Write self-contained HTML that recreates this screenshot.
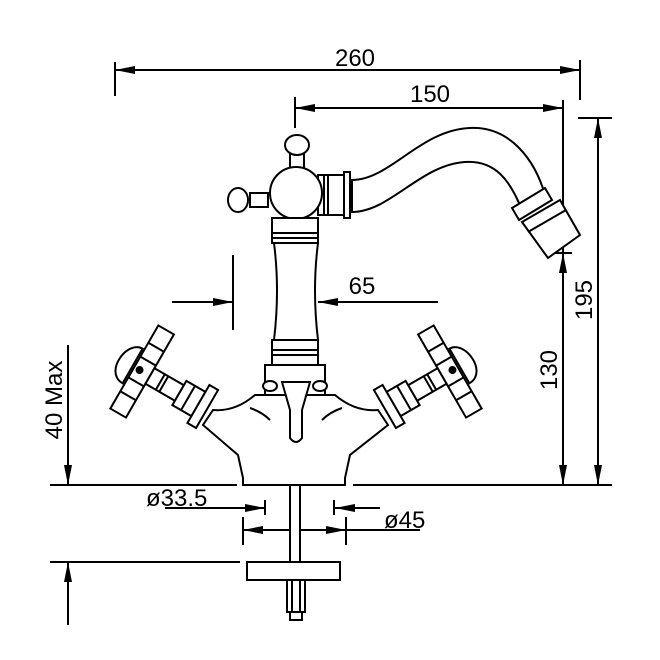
<!DOCTYPE html>
<html><head><style>html,body{margin:0;padding:0;background:#fff}svg{display:block}</style></head><body>
<svg width="660" height="660" viewBox="0 0 660 660" xmlns="http://www.w3.org/2000/svg">
<defs>
<marker id="a" viewBox="0 0 20 8" refX="20" refY="4" markerWidth="20" markerHeight="8" markerUnits="userSpaceOnUse" orient="auto"><path d="M0,0 L20,4 L0,8 Z" fill="#000"/></marker>
<g id="h" fill="#fff" stroke="#000" stroke-width="2">
<path d="M-12,-20 C-30,-20 -34,20 -12,20 Z"/>
<rect x="-10" y="-48" width="18" height="96"/>
<line x1="-10" y1="-28" x2="8" y2="-28"/><line x1="-10" y1="28" x2="8" y2="28"/>
<line x1="-10" y1="-12" x2="8" y2="-12"/><line x1="-10" y1="12" x2="8" y2="12"/>
<rect x="8" y="-9" width="34" height="18"/>
<line x1="20" y1="-9" x2="20" y2="9"/><line x1="24" y1="-9" x2="24" y2="9"/>
<rect x="42" y="-14" width="22" height="28"/>
<line x1="52" y1="-14" x2="52" y2="14"/>
<rect x="64" y="-22" width="10" height="44"/>
<circle cx="-4" cy="0" r="3" fill="#000"/>
</g>
</defs>
<g stroke="#000" stroke-width="2" fill="none">
<!-- 260 -->
<line x1="115" y1="62" x2="115" y2="96"/><line x1="580" y1="60" x2="580" y2="100"/>
<line x1="140" y1="70" x2="115" y2="70" marker-end="url(#a)"/><line x1="560" y1="70" x2="580" y2="70" marker-end="url(#a)"/><line x1="135" y1="70" x2="560" y2="70"/>
<!-- 150 -->
<line x1="295" y1="97" x2="295" y2="128"/><line x1="563" y1="100" x2="563" y2="485"/>
<line x1="315" y1="108" x2="295" y2="108" marker-end="url(#a)"/><line x1="545" y1="108" x2="563" y2="108" marker-end="url(#a)"/><line x1="310" y1="108" x2="545" y2="108"/>
<!-- 195 -->
<line x1="578" y1="118" x2="612" y2="118"/><line x1="598" y1="140" x2="598" y2="118" marker-end="url(#a)"/><line x1="598" y1="465" x2="598" y2="485" marker-end="url(#a)"/><line x1="598" y1="135" x2="598" y2="470"/>
<!-- 130 -->
<line x1="545" y1="253" x2="572" y2="253"/><line x1="563" y1="275" x2="563" y2="253" marker-end="url(#a)"/><line x1="563" y1="465" x2="563" y2="485" marker-end="url(#a)"/>
<!-- ground -->
<line x1="50" y1="485" x2="237" y2="485"/><line x1="353" y1="485" x2="612" y2="485"/>
<line x1="50" y1="562" x2="240" y2="562"/>
<!-- 40 max -->
<line x1="68" y1="345" x2="68" y2="485" marker-end="url(#a)"/><line x1="68" y1="625" x2="68" y2="562" marker-end="url(#a)"/>
<!-- 65 -->
<line x1="233" y1="255" x2="233" y2="330"/><line x1="294" y1="262" x2="294" y2="330"/>
<line x1="172" y1="302" x2="233" y2="302" marker-end="url(#a)"/><line x1="438" y1="302" x2="318" y2="302"/><line x1="340" y1="302" x2="318" y2="302" marker-end="url(#a)"/>
<!-- dia -->
<line x1="165" y1="508" x2="265" y2="508" marker-end="url(#a)"/><line x1="265" y1="500" x2="265" y2="515"/>
<line x1="380" y1="508" x2="335" y2="508" marker-end="url(#a)"/><line x1="334" y1="500" x2="334" y2="515"/>
<line x1="243" y1="517" x2="243" y2="545"/><line x1="346" y1="517" x2="346" y2="545"/>
<line x1="270" y1="530" x2="243" y2="530" marker-end="url(#a)"/><line x1="320" y1="530" x2="346" y2="530" marker-end="url(#a)"/><line x1="265" y1="530" x2="420" y2="530"/>
<!-- stem and nut -->
<rect x="290" y="485" width="10" height="77" fill="#fff"/>
<rect x="247" y="562" width="93" height="18" fill="#fff"/>
<rect x="287" y="580" width="18" height="32"/><line x1="292" y1="580" x2="292" y2="612"/><line x1="300" y1="580" x2="300" y2="612"/>
<rect x="290" y="612" width="12" height="8"/>
</g>
<g stroke="#000" stroke-width="2" fill="#fff">
<use href="#h" transform="translate(143,372) rotate(30)"/>
<use href="#h" transform="translate(592,0) scale(-1,1) translate(143,372) rotate(30)"/>
<!-- body -->
<path d="M213,410 Q235,412 255,395 L265,395 L325,395 L335,395 Q355,412 378,410 L388,425 L350,455 L345,478 L345,485 L243,485 L243,478 L238,455 L203,425 Z"/>
<path d="M250,408 Q262,412 270,420 M342,408 Q330,412 322,420" fill="none"/>
<!-- spout -->
<path d="M352,180 C390,180 420,130 470,128 C510,126 535,160 545,195 L522,210 C510,180 495,160 465,162 C420,165 390,212 352,212 Z"/>
<path d="M512,208 L545,188 L552,200 L519,220 Z"/>
<path d="M522,222 L560,200 L580,235 L548,258 Z"/>
<line x1="528" y1="232" x2="566" y2="210"/>
<!-- collar -->
<rect x="318" y="175" width="32" height="40"/>
<line x1="324" y1="175" x2="324" y2="215"/><line x1="328" y1="175" x2="328" y2="215"/>
<rect x="344" y="172" width="6" height="46"/>
<!-- top knob -->
<rect x="290" y="152" width="14" height="20"/>
<ellipse cx="297" cy="145" rx="12" ry="10"/>
<rect x="250" y="193" width="18" height="14"/>
<ellipse cx="238" cy="200" rx="10" ry="12"/>
<circle cx="296" cy="193" r="26"/>
<!-- column -->
<rect x="272" y="218" width="46" height="25"/>
<line x1="272" y1="233" x2="318" y2="233"/><line x1="272" y1="238" x2="318" y2="238"/>
<path d="M274,243 Q280,290 274,340 L318,340 Q312,290 318,243 Z"/>
<rect x="272" y="340" width="46" height="25"/>
<line x1="272" y1="350" x2="318" y2="350"/><line x1="272" y1="355" x2="318" y2="355"/>
<rect x="265" y="365" width="60" height="30"/>
<ellipse cx="270" cy="386" rx="7" ry="5"/><ellipse cx="320" cy="386" rx="7" ry="5"/>
<path d="M282,382 L310,382 L302,410 L302,438 Q296,446 290,438 L290,410 Z"/>
</g>
<g font-family="Liberation Sans, sans-serif" font-size="24" fill="#000">
<text x="355" y="66" text-anchor="middle">260</text>
<text x="430" y="102" text-anchor="middle">150</text>
<text x="362" y="294" text-anchor="middle">65</text>
<text x="146" y="506">ø33.5</text>
<text x="384" y="528">ø45</text>
<text transform="translate(598,300) rotate(-90)" text-anchor="middle" y="-6">195</text>
<text transform="translate(563,370) rotate(-90)" text-anchor="middle" y="-6">130</text>
<text transform="translate(68,400) rotate(-90)" text-anchor="middle" y="-6">40 Max</text>
</g>
</svg>
</body></html>
